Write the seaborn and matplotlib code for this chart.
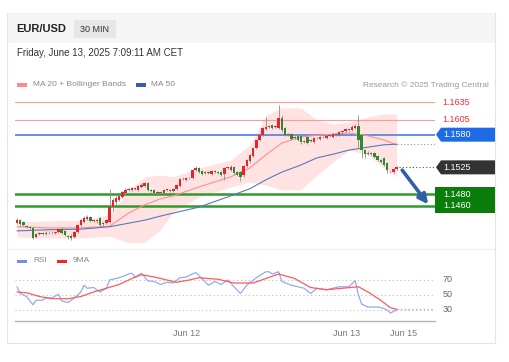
import numpy as np
import pandas as pd
import matplotlib
matplotlib.use('Agg')
import matplotlib.pyplot as plt
from matplotlib.patches import Rectangle, Polygon
import seaborn as sns

sns.set_theme(style='white')
plt.rcParams['font.family'] = ['Liberation Sans', 'DejaVu Sans']

# EUR/USD 30 min candles
opens = [1.1431, 1.1436, 1.1433, 1.1426, 1.1425, 1.1423, 1.1408, 1.1413, 1.1414, 1.1413,
         1.1415, 1.1414, 1.1415, 1.1416, 1.1421, 1.1418, 1.1409, 1.1410, 1.1408, 1.1416,
         1.1428, 1.1433, 1.1438, 1.1441, 1.1435, 1.1435, 1.1440, 1.1429, 1.1431, 1.1433,
         1.1458, 1.1467, 1.1470, 1.1475, 1.1482, 1.1487, 1.1487, 1.1489, 1.1487, 1.1492,
         1.1494, 1.1499, 1.1487, 1.1487, 1.1482, 1.1483, 1.1482, 1.1487, 1.1487, 1.1485,
         1.1489, 1.1494, 1.1505, 1.1504, 1.1507, 1.1507, 1.1521, 1.1524, 1.1519, 1.1515,
         1.1517, 1.1514, 1.1519, 1.1517, 1.1517, 1.1514, 1.1524, 1.1521, 1.1526, 1.1517,
         1.1517, 1.1512, 1.1527, 1.1535, 1.1544, 1.1558, 1.1571, 1.1579, 1.1590, 1.1593,
         1.1596, 1.1593, 1.1591, 1.1608, 1.1591, 1.1579, 1.1581, 1.1574, 1.1578, 1.1578,
         1.1568, 1.1576, 1.1569, 1.1568, 1.1574, 1.1573, 1.1576, 1.1574, 1.1578, 1.1576,
         1.1581, 1.1579, 1.1584, 1.1586, 1.1588, 1.1588, 1.1591, 1.1595, 1.1579, 1.1554,
         1.1549, 1.1547, 1.1549, 1.1544, 1.1537, 1.1541, 1.1532, 1.1517, 1.1517, 1.1522]
closes = [1.1436, 1.1429, 1.1428, 1.1425, 1.1423, 1.1406, 1.1413, 1.1414, 1.1413, 1.1415,
          1.1414, 1.1415, 1.1416, 1.1421, 1.1415, 1.1411, 1.1408, 1.1406, 1.1416, 1.1428,
          1.1436, 1.1440, 1.1441, 1.1435, 1.1435, 1.1436, 1.1428, 1.1431, 1.1436, 1.1458,
          1.1470, 1.1473, 1.1477, 1.1483, 1.1487, 1.1487, 1.1490, 1.1489, 1.1494, 1.1495,
          1.1499, 1.1487, 1.1485, 1.1482, 1.1483, 1.1482, 1.1487, 1.1487, 1.1485, 1.1489,
          1.1495, 1.1505, 1.1505, 1.1507, 1.1507, 1.1521, 1.1524, 1.1517, 1.1514, 1.1517,
          1.1515, 1.1519, 1.1517, 1.1515, 1.1512, 1.1524, 1.1524, 1.1526, 1.1515, 1.1512,
          1.1509, 1.1527, 1.1537, 1.1546, 1.1558, 1.1571, 1.1579, 1.1591, 1.1593, 1.1593,
          1.1591, 1.1595, 1.1608, 1.1588, 1.1579, 1.1581, 1.1573, 1.1576, 1.1571, 1.1568,
          1.1569, 1.1566, 1.1571, 1.1574, 1.1574, 1.1576, 1.1576, 1.1578, 1.1578, 1.1581,
          1.1579, 1.1584, 1.1586, 1.1590, 1.1588, 1.1593, 1.1595, 1.1571, 1.1554, 1.1547,
          1.1547, 1.1549, 1.1542, 1.1537, 1.1534, 1.1529, 1.1521, 1.1517, 1.1522, 1.1525]
highs = [1.1439, 1.1438, 1.1435, 1.1428, 1.1427, 1.1425, 1.1415, 1.1416, 1.1416, 1.1417,
         1.1417, 1.1417, 1.1418, 1.1423, 1.1424, 1.1420, 1.1411, 1.1412, 1.1418, 1.1430,
         1.1438, 1.1443, 1.1445, 1.1443, 1.1437, 1.1438, 1.1441, 1.1433, 1.1438, 1.1489,
         1.1473, 1.1476, 1.1479, 1.1485, 1.1490, 1.1490, 1.1492, 1.1491, 1.1496, 1.1498,
         1.1501, 1.1501, 1.1489, 1.1489, 1.1485, 1.1485, 1.1489, 1.1489, 1.1489, 1.1491,
         1.1497, 1.1507, 1.1508, 1.1509, 1.1509, 1.1523, 1.1527, 1.1526, 1.1521, 1.1519,
         1.1519, 1.1521, 1.1520, 1.1519, 1.1519, 1.1526, 1.1526, 1.1529, 1.1528, 1.1519,
         1.1519, 1.1529, 1.1539, 1.1548, 1.1560, 1.1573, 1.1582, 1.1593, 1.1610, 1.1596,
         1.1598, 1.1597, 1.1630, 1.1613, 1.1593, 1.1583, 1.1583, 1.1578, 1.1580, 1.1580,
         1.1571, 1.1578, 1.1573, 1.1576, 1.1576, 1.1578, 1.1578, 1.1580, 1.1580, 1.1583,
         1.1583, 1.1586, 1.1588, 1.1592, 1.1590, 1.1596, 1.1598, 1.1613, 1.1581, 1.1556,
         1.1552, 1.1551, 1.1551, 1.1546, 1.1539, 1.1543, 1.1534, 1.1519, 1.1524, 1.1527]
lows = [1.1429, 1.1427, 1.1426, 1.1423, 1.1421, 1.1404, 1.1406, 1.1411, 1.1411, 1.1411,
        1.1412, 1.1412, 1.1413, 1.1414, 1.1413, 1.1409, 1.1404, 1.1403, 1.1406, 1.1414,
        1.1426, 1.1431, 1.1436, 1.1433, 1.1433, 1.1432, 1.1426, 1.1427, 1.1429, 1.1431,
        1.1452, 1.1462, 1.1468, 1.1473, 1.1480, 1.1485, 1.1485, 1.1487, 1.1485, 1.1490,
        1.1492, 1.1485, 1.1483, 1.1480, 1.1480, 1.1480, 1.1480, 1.1485, 1.1483, 1.1483,
        1.1487, 1.1492, 1.1503, 1.1502, 1.1505, 1.1505, 1.1519, 1.1515, 1.1512, 1.1513,
        1.1513, 1.1512, 1.1515, 1.1513, 1.1510, 1.1504, 1.1522, 1.1519, 1.1513, 1.1510,
        1.1502, 1.1509, 1.1525, 1.1533, 1.1542, 1.1556, 1.1569, 1.1577, 1.1588, 1.1591,
        1.1589, 1.1591, 1.1589, 1.1585, 1.1577, 1.1577, 1.1571, 1.1572, 1.1569, 1.1564,
        1.1566, 1.1564, 1.1567, 1.1566, 1.1572, 1.1571, 1.1574, 1.1572, 1.1576, 1.1574,
        1.1577, 1.1577, 1.1582, 1.1584, 1.1586, 1.1586, 1.1589, 1.1559, 1.1541, 1.1541,
        1.1545, 1.1545, 1.1540, 1.1535, 1.1532, 1.1527, 1.1515, 1.1515, 1.1515, 1.1520]

# moving averages / bollinger bands, read at some candles
band_idx = [0, 10, 20, 29, 35, 40, 45, 49, 57, 67, 73, 78, 83, 89, 94, 99, 104, 110, 115, 119]
bb_upper = [1.1433, 1.1435, 1.1436, 1.1445, 1.1487, 1.1509, 1.1512, 1.1509, 1.1524, 1.1537,
            1.1563, 1.1613, 1.1625, 1.1625, 1.1605, 1.1598, 1.1601, 1.1610, 1.1615, 1.1615]
bb_lower = [1.1408, 1.1406, 1.1406, 1.1409, 1.1398, 1.1399, 1.1420, 1.1450, 1.1475, 1.1492,
            1.1500, 1.1495, 1.1487, 1.1487, 1.1512, 1.1534, 1.1554, 1.1546, 1.1524, 1.1509]
ma20 = [1.1425, 1.1423, 1.1423, 1.1426, 1.1448, 1.1462, 1.1472, 1.1477, 1.1492, 1.1509,
        1.1524, 1.1546, 1.1566, 1.1576, 1.1579, 1.1581, 1.1583, 1.1578, 1.1571, 1.1563]
ma50 = [1.1418, 1.1420, 1.1421, 1.1425, 1.1431, 1.1436, 1.1443, 1.1448, 1.1458, 1.1477,
        1.1489, 1.1504, 1.1517, 1.1529, 1.1541, 1.1547, 1.1554, 1.1559, 1.1563, 1.1564]

# RSI and its 9 period MA
rsi_idx = [0, 1, 3, 5, 6, 8, 9, 11, 13, 14, 16, 18, 20, 21, 22, 24, 26, 28, 29, 32,
           35, 36, 37, 39, 41, 43, 45, 47, 49, 51, 53, 56, 57, 60, 62, 64, 66, 68, 70, 72,
           75, 78, 79, 80, 82, 83, 86, 88, 90, 92, 94, 97, 99, 101, 104, 106, 107, 108, 110, 113,
           115, 116, 117, 119]
rsi_vals = [61, 52, 48, 37, 43, 43, 46, 46, 51, 42, 40, 46, 54, 63, 59, 60, 54, 59, 70, 73,
            78, 79, 74, 79, 69, 68, 64, 67, 66, 73, 74, 80, 76, 63, 68, 64, 70, 61, 52, 63,
            73, 81, 81, 78, 81, 68, 63, 61, 59, 52, 59, 57, 59, 61, 61, 69, 50, 38, 34, 34,
            32, 30, 26, 30]
rsi_ma_idx = [0, 3, 7, 11, 16, 20, 24, 28, 32, 36, 39, 43, 47, 50, 54, 57, 63, 68, 74, 78,
              82, 87, 92, 97, 102, 107, 110, 114, 117, 119]
rsi_ma_vals = [54, 53, 48, 45, 45, 48, 54, 59, 64, 72, 77, 74, 70, 67, 70, 73, 71, 66, 66, 72,
               78, 72, 60, 57, 59, 61, 54, 43, 33, 31]
rsi_levels = [70, 50, 30]

# key levels
resistances = [1.1635, 1.1605]
pivot = 1.1580
last_price = 1.1525
supports = [1.1480, 1.1460]
target = 1.1460

tick_pos = [53, 103.4, 121]
tick_labels = ['Jun 12', 'Jun 13', 'Jun 15']

W, H = 509, 362
XMIN, XMAX = -0.63, 131.0
YMIN, YMAX = 1.13909, 1.16468


def fx(px):
    return px / W


def fy(py):
    return 1 - py / H


fig = plt.figure(figsize=(W / 100, H / 100), dpi=100)
fig.patch.set_facecolor('white')

# card + header band
fig.patches.append(Rectangle((fx(7), fy(343)), 488 / W, 330 / H, transform=fig.transFigure,
                             facecolor='none', edgecolor='#e4e4e4', lw=0.8, zorder=-2))
fig.patches.append(Rectangle((fx(7.5), fy(43)), 487 / W, 30 / H, transform=fig.transFigure,
                             facecolor='#f5f5f5', edgecolor='none', zorder=-2))
fig.patches.append(Rectangle((fx(74), fy(38)), 42 / W, 18 / H, transform=fig.transFigure,
                             facecolor='#e6e6e6', edgecolor='none', zorder=-1))
fig.text(fx(16), fy(29), 'EUR/USD', fontsize=8, fontweight='bold', color='#222222', va='center')
fig.text(fx(95), fy(29), '30 MIN', fontsize=6.5, color='#333333', va='center', ha='center')
fig.text(fx(17), fy(53), 'Friday, June 13, 2025 7:09:11 AM CET', fontsize=7, color='#333333', va='center')

# legend row
fig.patches.append(Rectangle((fx(17), fy(86.5)), 10 / W, 3 / H, transform=fig.transFigure,
                             facecolor='#ff8a8a', edgecolor='none'))
fig.text(fx(33), fy(85), 'MA 20 + Bollinger Bands', fontsize=6, color='#888888', va='center')
fig.patches.append(Rectangle((fx(136), fy(86.5)), 10 / W, 3 / H, transform=fig.transFigure,
                             facecolor='#3b5ea6', edgecolor='none'))
fig.text(fx(151), fy(85), 'MA 50', fontsize=6, color='#888888', va='center')
fig.text(fx(489), fy(85), 'Research \u00a9 2025 Trading Central', fontsize=6, color='#999999',
         va='center', ha='right')

# ---- price panel
ax = fig.add_axes([fx(15), fy(247), 420 / W, 152 / H])
ax.set_zorder(2)
ax.set_facecolor('none')
idx = np.arange(len(closes))

ax.fill_between(band_idx, bb_lower, bb_upper, color='#ffdede', alpha=0.85, lw=0, zorder=1)
for lv in resistances:
    ax.axhline(lv, color='#ff9a9a', lw=0.8, zorder=2)
ax.axhline(pivot, color='#5a86e6', lw=1.3, zorder=2)
for lv in supports:
    ax.axhline(lv, color='#2e9a2e', lw=1.8, zorder=2)

sns.lineplot(x=band_idx, y=ma20, ax=ax, color='#ff8f8f', lw=0.8, zorder=3)
sns.lineplot(x=band_idx, y=ma50, ax=ax, color='#5a78b8', lw=0.8, zorder=3)
ax.plot([band_idx[-1], XMAX], [ma50[-1], ma50[-1]], ls=(0, (1, 2)), color='#7d93c4', lw=0.8, zorder=3)
ax.plot([idx[-1] + 0.6, XMAX], [last_price, last_price], ls=(0, (1, 2)), color='#555555', lw=0.8, zorder=3)

o = np.array(opens)
c = np.array(closes)
up = c >= o
body = np.where(np.abs(c - o) < 0.00008, 0.00008, c - o)
cols = np.where(up, '#e3262b', '#2c8a2c')
ax.vlines(idx, lows, highs, color='#8c8c8c', lw=0.6, zorder=4)
ax.bar(idx, body, bottom=o, width=0.76, color=cols, lw=0, zorder=5)

ax.annotate('', xy=(129.4, target - 0.0001), xytext=(120.2, last_price - 0.0001),
            arrowprops=dict(arrowstyle='-|>', color='#2e5fa8', lw=2.6, mutation_scale=14),
            annotation_clip=False, zorder=6)

ax.set_xlim(XMIN, XMAX)
ax.set_ylim(YMIN, YMAX)
ax.set_xticks([])
ax.set_yticks([])
ax.set_xlabel('')
ax.set_ylabel('')
for s in ax.spines.values():
    s.set_visible(False)

# right-hand price labels
tr = ax.get_yaxis_transform()
ppx = (YMAX - YMIN) / 152.0


def afrac(px):
    return (px - 15) / 420.0


for lv in resistances:
    ax.text(afrac(442), lv, f'{lv:.4f}', transform=tr, fontsize=6.5, color='#ff2a2a',
            va='center', ha='left', clip_on=False)


def tag(price, color):
    hh = 7 * ppx
    pts = [(afrac(436), price), (afrac(441), price + hh), (afrac(495), price + hh),
           (afrac(495), price - hh), (afrac(441), price - hh)]
    ax.add_patch(Polygon(pts, closed=True, transform=tr, facecolor=color, edgecolor='none',
                         clip_on=False, zorder=7))
    ax.text(afrac(443), price, f'{price:.4f}', transform=tr, fontsize=6.5, color='white',
            va='center', ha='left', clip_on=False, zorder=8)


tag(pivot, '#1f6be6')
tag(last_price, '#333333')
ax.add_patch(Rectangle((afrac(435), supports[1] - 7 * ppx), afrac(495) - afrac(435),
                       supports[0] - supports[1] + 14 * ppx, transform=tr, facecolor='#0b7d0b',
                       edgecolor='none', clip_on=False, zorder=7))
for lv in supports:
    ax.text(afrac(443), lv, f'{lv:.4f}', transform=tr, fontsize=6.5, color='white',
            va='center', ha='left', clip_on=False, zorder=8)

# faint separator
fig.lines.append(plt.Line2D([fx(8), fx(494)], [fy(249), fy(249)], transform=fig.transFigure,
                            color='#f0f0f0', lw=0.8, zorder=-1))

# ---- RSI panel
fig.patches.append(Rectangle((fx(17), fy(262.5)), 10 / W, 3 / H, transform=fig.transFigure,
                             facecolor='#6f8fe6', edgecolor='none'))
fig.text(fx(33), fy(261), 'RSI', fontsize=6, color='#888888', va='center')
fig.patches.append(Rectangle((fx(57), fy(262.5)), 10 / W, 3 / H, transform=fig.transFigure,
                             facecolor='#ff2020', edgecolor='none'))
fig.text(fx(73), fy(261), '9MA', fontsize=6, color='#888888', va='center')

ax2 = fig.add_axes([fx(15), fy(321), 420 / W, 53 / H])
ax2.set_zorder(2)
ax2.set_facecolor('none')
for lv in rsi_levels:
    ax2.axhline(lv, color='#bdbdbd', lw=0.8, ls=(0, (1, 2.5)), zorder=1)
    ax2.text(afrac(443), lv, str(lv), transform=ax2.get_yaxis_transform(), fontsize=6.5,
             color='#666666', va='center', ha='left', clip_on=False)
sns.lineplot(x=rsi_idx, y=rsi_vals, ax=ax2, color='#94abee', lw=0.9, zorder=2)
sns.lineplot(x=rsi_ma_idx, y=rsi_ma_vals, ax=ax2, color='#ff5a5a', lw=0.9, zorder=3)
ax2.plot([rsi_idx[-1], XMAX], [31, 31], ls=(0, (1, 2)), color='#94abee', lw=0.9, zorder=2)

ax2.set_xlim(XMIN, XMAX)
ax2.set_ylim(15.33, 86)
ax2.set_yticks([])
ax2.set_ylabel('')
ax2.set_xlabel('')
for k in ['top', 'left', 'right']:
    ax2.spines[k].set_visible(False)
ax2.spines['bottom'].set_color('#b5b5b5')
ax2.spines['bottom'].set_linewidth(1.0)
ax2.set_xticks(tick_pos)
ax2.set_xticklabels(tick_labels, fontsize=6.5, color='#777777')
ax2.set_xticks([XMIN, XMAX], minor=True)
ax2.tick_params(axis='x', which='major', length=0, pad=6)
ax2.tick_params(axis='x', which='minor', direction='in', length=4, width=1.0, color='#b5b5b5')

fig.savefig('out.png', dpi=100)
